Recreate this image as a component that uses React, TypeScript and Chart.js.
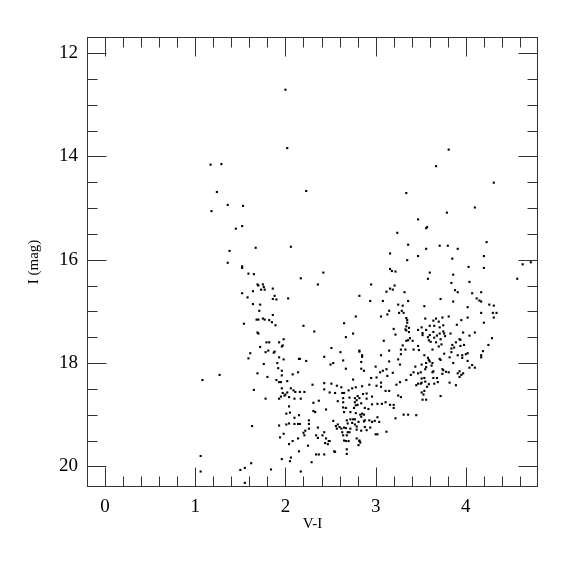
import React, { useEffect, useRef } from "react";
import { Chart, registerables } from "chart.js";

Chart.register(...registerables);

const X_TICKS = [0, 1, 2, 3, 4];
const Y_TICKS = [12, 14, 16, 18, 20];
const X_MIN = -0.2;
const X_MAX = 4.8;
const Y_MIN = 11.69;
const Y_MAX = 20.4;

// [V-I, I] pairs
const UPPER: [number, number][] = [
  [2.00, 12.71], [2.02, 13.84], [1.17, 14.16], [1.29, 14.15], [1.24, 14.69], [1.36, 14.94],
  [1.53, 14.96], [1.18, 15.06], [1.52, 15.35], [1.45, 15.40], [1.67, 15.77], [2.06, 15.75],
  [2.23, 14.67], [3.34, 14.71], [3.47, 15.22], [3.24, 15.48], [3.36, 15.71],
  [3.81, 13.87], [3.67, 14.19], [4.31, 14.51], [4.10, 14.99], [3.79, 15.09], [3.56, 15.39],
  [3.57, 15.37], [4.23, 15.66], [3.71, 15.73], [3.80, 15.73], [3.91, 15.79], [3.56, 15.79],
];

const BLUE_BRANCH: [number, number][] = [
  [1.38, 15.83], [1.36, 16.06], [1.52, 16.13], [1.52, 16.16], [1.59, 16.27], [1.65, 16.28],
  [1.69, 16.48], [1.70, 16.50], [1.75, 16.48], [1.76, 16.53], [1.73, 16.58], [1.77, 16.58],
  [1.86, 16.56], [1.52, 16.65], [1.64, 16.61], [1.88, 16.70], [1.86, 16.76], [1.90, 16.77],
  [2.03, 16.75], [1.58, 16.73], [1.64, 16.86], [1.72, 16.87], [1.71, 16.99], [1.86, 17.07],
  [1.68, 17.16], [1.70, 17.16], [1.75, 17.14], [1.77, 17.16], [1.82, 17.17], [1.85, 17.21],
  [1.89, 17.27], [1.54, 17.24], [1.69, 17.41], [1.70, 17.43], [1.98, 17.54], [1.79, 17.60],
  [1.82, 17.60], [1.93, 17.60], [1.97, 17.66], [1.96, 17.68], [1.72, 17.69], [1.81, 17.76],
  [1.88, 17.78], [1.87, 17.80], [1.78, 17.79], [1.61, 17.81], [1.59, 17.91], [1.93, 17.89],
  [1.98, 17.93], [2.15, 17.92], [1.91, 18.00], [1.76, 18.02], [1.92, 18.10],
  [1.08, 18.33], [1.27, 18.23], [1.69, 18.20], [1.80, 18.27], [1.96, 18.15], [1.96, 18.24],
  [2.08, 18.22], [2.14, 18.18], [1.90, 18.33], [1.93, 18.37], [1.95, 18.37], [2.02, 18.35],
  [1.65, 18.52], [1.96, 18.49], [2.06, 18.49], [2.09, 18.53], [1.97, 18.58], [2.02, 18.57],
  [2.11, 18.56], [1.99, 18.63], [2.00, 18.61], [1.95, 18.65], [2.04, 18.66], [1.78, 18.69],
  [1.93, 18.69], [2.10, 18.69], [2.04, 18.84], [2.01, 18.98], [2.05, 18.96], [2.10, 19.06],
  [2.15, 19.01], [1.93, 19.21], [2.01, 19.19], [2.04, 19.17], [2.10, 19.18], [2.14, 19.18],
  [1.63, 19.22], [1.98, 19.37], [1.94, 19.44], [2.14, 19.46], [2.08, 19.51], [2.04, 19.57],
  [2.15, 19.71], [1.06, 19.80], [1.96, 19.86], [2.06, 19.83], [2.05, 19.90], [1.62, 19.94],
  [1.55, 20.03], [1.50, 20.07], [1.06, 20.10], [1.84, 20.06], [1.55, 20.32],
];

const RED_BRANCH: [number, number][] = [
  [3.16, 15.88], [3.47, 15.93], [3.35, 16.01], [3.16, 16.18], [3.18, 16.22], [3.22, 16.23],
  [2.42, 16.25], [2.17, 16.36], [2.36, 16.48], [2.95, 16.48], [3.21, 16.50], [3.16, 16.56],
  [3.19, 16.58], [3.12, 16.62], [3.32, 16.63], [2.82, 16.70], [2.94, 16.80], [3.08, 16.80],
  [3.36, 16.80], [3.25, 16.87], [3.30, 16.89], [3.15, 16.99], [3.29, 16.99], [3.26, 17.03],
  [3.31, 17.03], [3.13, 17.06], [3.06, 17.10], [2.78, 17.10], [3.34, 17.13], [3.35, 17.17],
  [3.35, 17.22], [2.65, 17.23], [2.20, 17.28], [3.34, 17.29], [3.37, 17.32], [3.33, 17.35],
  [3.34, 17.37], [3.37, 17.40], [3.20, 17.34], [2.32, 17.39], [3.47, 17.36], [2.75, 17.43],
  [3.22, 17.45], [2.67, 17.50], [3.38, 17.52], [3.36, 17.56], [3.34, 17.57], [3.09, 17.57],
  [3.41, 17.57], [3.47, 17.67], [3.48, 17.75], [3.30, 17.66], [2.51, 17.71], [3.28, 17.74],
  [3.33, 17.74], [3.42, 17.74], [2.82, 17.76], [2.82, 17.78], [3.15, 17.76], [2.61, 17.79],
  [3.06, 17.85], [2.85, 17.85], [2.85, 17.88], [3.28, 17.83], [2.43, 17.88], [3.25, 17.93],
  [2.16, 17.92], [2.23, 17.96], [2.64, 17.95], [2.84, 17.98], [3.15, 17.97], [2.53, 18.00],
  [2.50, 18.03], [3.27, 18.03], [3.00, 18.07], [3.44, 18.07], [2.67, 18.11], [2.84, 18.11],
  [3.12, 18.12],
  [4.20, 15.93], [3.85, 15.98], [4.03, 16.14], [4.20, 16.16], [4.72, 16.05], [4.63, 16.09],
  [3.60, 16.25], [3.86, 16.29], [3.58, 16.37], [4.57, 16.37], [3.84, 16.45], [4.04, 16.43],
  [3.88, 16.59], [3.91, 16.63], [4.07, 16.65], [4.17, 16.63], [4.12, 16.75], [4.15, 16.79],
  [3.72, 16.76], [3.86, 16.81], [4.17, 16.81], [4.26, 16.87], [4.31, 16.89], [3.54, 16.90],
  [4.02, 16.92], [4.17, 17.03], [4.30, 17.03], [4.34, 17.03], [3.81, 17.10], [3.74, 17.12],
  [4.31, 17.12], [4.02, 17.12], [3.55, 17.14], [3.67, 17.14], [3.70, 17.20], [3.64, 17.18],
  [3.95, 17.17], [4.20, 17.22], [3.60, 17.28], [3.75, 17.27], [3.51, 17.31], [3.65, 17.28],
  [3.71, 17.31], [3.90, 17.26], [3.56, 17.36], [3.64, 17.40], [3.75, 17.39], [3.76, 17.43],
  [3.97, 17.41], [4.10, 17.41], [3.52, 17.42], [3.71, 17.43], [3.60, 17.46], [3.52, 17.46],
  [3.83, 17.43], [3.68, 17.47], [3.77, 17.48], [3.58, 17.50], [3.65, 17.51], [4.04, 17.47],
  [4.29, 17.52], [3.72, 17.54], [3.93, 17.54], [3.94, 17.55], [3.61, 17.59], [3.59, 17.56],
  [3.67, 17.60], [3.89, 17.60], [4.25, 17.65], [3.73, 17.64], [3.70, 17.68], [3.85, 17.65],
  [3.94, 17.67], [3.98, 17.65], [3.87, 17.70], [3.84, 17.72], [3.63, 17.74], [4.19, 17.77],
  [3.84, 17.79], [3.76, 17.82], [3.54, 17.85], [3.91, 17.85], [3.96, 17.85], [4.00, 17.83],
  [3.82, 17.89], [4.02, 17.81], [4.17, 17.85], [4.17, 17.89], [3.71, 17.92], [3.72, 17.94],
  [3.96, 17.90], [3.58, 17.90], [3.59, 17.94], [3.60, 17.97], [3.63, 18.00], [4.02, 17.96],
  [3.56, 18.00], [3.86, 18.00], [4.07, 18.04], [3.51, 18.03], [3.56, 18.08], [3.55, 18.12],
  [3.62, 18.05], [4.04, 18.09], [4.10, 18.09], [3.74, 18.12],
  [3.50, 18.18], [3.63, 18.18], [3.64, 18.16], [3.74, 18.21], [3.78, 18.17], [3.81, 18.18],
  [3.75, 18.14], [3.91, 18.20], [3.93, 18.16], [3.95, 18.23], [3.97, 18.20], [3.93, 18.27],
  [3.51, 18.30], [3.54, 18.29], [3.64, 18.29], [3.68, 18.29], [3.50, 18.40], [3.51, 18.38],
  [3.55, 18.36], [3.59, 18.41], [3.57, 18.46], [3.65, 18.40], [3.69, 18.37], [3.82, 18.38],
  [3.89, 18.43], [3.51, 18.57], [3.54, 18.54], [3.53, 18.61], [3.72, 18.64], [3.52, 18.71],
  [3.56, 18.71],
];

const TURNOFF: [number, number][] = [
  [2.17, 20.10], [2.29, 19.92], [2.34, 19.77], [2.37, 19.77], [2.43, 19.77], [2.54, 19.71],
  [2.68, 19.67], [2.68, 19.76], [2.67, 19.51], [2.81, 19.59], [2.82, 19.50],
  [2.87, 18.15], [2.75, 18.32], [2.95, 18.29], [3.01, 18.28], [3.05, 18.18], [3.08, 18.15],
  [3.13, 18.25], [3.19, 18.19], [3.39, 18.23], [3.42, 18.18], [3.47, 18.20], [3.34, 18.33],
  [3.27, 18.37], [3.45, 18.43], [3.47, 18.40], [2.30, 18.42], [2.43, 18.39], [2.51, 18.40],
  [2.57, 18.44], [2.62, 18.47], [2.43, 18.51], [2.49, 18.57], [2.55, 18.58], [2.63, 18.58],
  [2.65, 18.58], [2.70, 18.53], [2.74, 18.49], [2.78, 18.47], [2.85, 18.45], [2.93, 18.42],
  [3.01, 18.44], [3.06, 18.38], [3.06, 18.46], [3.11, 18.54], [3.15, 18.54], [3.23, 18.42],
  [2.96, 18.65], [2.86, 18.60], [2.90, 18.59], [2.80, 18.64], [2.77, 18.68], [2.82, 18.68],
  [2.79, 18.72], [2.77, 18.76], [2.84, 18.78], [2.90, 18.69], [2.71, 18.67], [2.96, 18.80],
  [3.02, 18.79], [3.07, 18.79], [3.11, 18.76], [3.16, 18.81], [3.20, 18.81], [3.20, 18.87],
  [3.25, 18.63], [3.28, 18.66], [2.16, 18.56], [2.21, 18.56], [2.17, 18.69], [2.31, 18.77],
  [2.33, 18.95], [2.31, 18.93], [2.37, 18.73], [2.45, 18.90], [2.64, 18.76], [2.64, 18.86],
  [2.67, 18.87], [2.65, 18.95], [2.58, 18.74], [2.64, 18.68], [2.78, 18.82], [2.80, 18.81],
  [2.76, 18.87], [2.88, 18.87], [2.92, 18.89], [2.72, 18.95], [2.83, 19.00], [2.85, 18.98],
  [2.87, 19.00], [2.84, 19.04], [3.02, 19.05], [3.04, 19.14], [2.99, 19.12], [2.96, 19.14],
  [2.93, 19.11], [2.88, 19.11], [2.87, 19.13], [3.22, 19.07], [3.31, 19.00], [3.36, 19.00],
  [3.45, 19.01], [2.78, 18.97], [2.72, 19.09], [2.75, 19.09], [2.77, 19.09], [2.68, 19.11],
  [2.69, 19.17], [2.16, 19.18], [2.20, 19.35], [2.22, 19.31], [2.21, 19.40], [2.26, 19.11],
  [2.26, 19.18], [2.26, 19.27], [2.53, 19.12], [2.36, 19.25], [2.43, 19.34], [2.41, 19.40],
  [2.45, 19.46], [2.48, 19.51], [2.49, 19.51], [2.47, 19.57], [2.44, 19.55], [2.34, 19.40],
  [2.36, 19.45], [2.25, 19.60], [2.56, 19.22], [2.57, 19.27], [2.58, 19.19], [2.60, 19.24],
  [2.62, 19.27], [2.65, 19.25], [2.67, 19.26], [2.69, 19.34], [2.71, 19.34], [2.72, 19.27],
  [2.63, 19.34], [2.64, 19.40], [2.68, 19.40], [2.65, 19.50], [2.70, 19.51], [2.74, 19.16],
  [2.77, 19.19], [2.79, 19.23], [2.81, 19.14], [2.79, 19.29], [2.84, 19.31], [2.88, 19.24],
  [2.94, 19.25], [2.90, 19.30], [2.82, 19.51], [2.83, 19.54], [2.79, 19.46], [3.00, 19.38],
  [3.02, 19.38], [3.12, 19.33], [2.55, 19.72],
];

const FONT = "'Liberation Serif', 'DejaVu Serif', serif";

const framePlugin = {
  id: "frameTicks",
  afterDatasetsDraw(chart: any) {
    const { ctx, chartArea: a, scales } = chart;
    const xs = scales.x;
    const ys = scales.y;
    const L = Math.round(a.left) + 0.5;
    const R = Math.round(a.right) - 0.5;
    const T = Math.round(a.top) + 0.5;
    const B = Math.round(a.bottom) - 0.5;
    ctx.save();
    ctx.strokeStyle = "#333";
    ctx.lineWidth = 1;
    ctx.beginPath();
    for (let i = 0; i <= 25; i++) {
      const v = X_MIN + i * 0.2;
      const major = Math.abs(v - Math.round(v)) < 1e-6;
      const len = major ? 19 : 10;
      const px = Math.round(xs.getPixelForValue(v)) + 0.5;
      if (px <= L + 1 || px >= R - 1) continue;
      ctx.moveTo(px, B);
      ctx.lineTo(px, B - len);
      ctx.moveTo(px, T);
      ctx.lineTo(px, T + len);
    }
    for (let i = 0; i <= 16; i++) {
      const v = 12 + i * 0.5;
      const major = Math.abs(v / 2 - Math.round(v / 2)) < 1e-6;
      const len = major ? 19 : 10;
      const py = Math.round(ys.getPixelForValue(v)) + 0.5;
      if (py <= T + 1 || py >= B - 1) continue;
      ctx.moveTo(L, py);
      ctx.lineTo(L + len, py);
      ctx.moveTo(R, py);
      ctx.lineTo(R - len, py);
    }
    ctx.stroke();
    ctx.strokeRect(L, T, R - L, B - T);
    ctx.restore();
  },
};

export default function App() {
  const ref = useRef<HTMLCanvasElement | null>(null);

  useEffect(() => {
    document.body.style.margin = "0";
    const canvas = ref.current;
    if (!canvas) return;
    const points = [...UPPER, ...BLUE_BRANCH, ...RED_BRANCH, ...TURNOFF].map(([vi, mag]) => ({
      x: vi,
      y: mag,
    }));
    const chart = new Chart(canvas, {
      type: "scatter",
      data: {
        datasets: [
          {
            data: points,
            pointStyle: "rect",
            pointRadius: 1.5,
            pointBorderWidth: 0,
            backgroundColor: "#000",
            borderColor: "#000",
          },
        ],
      },
      options: {
        animation: false,
        responsive: false,
        devicePixelRatio: 1,
        layout: { padding: { top: 37, right: 37, left: 0, bottom: 0 } },
        plugins: { legend: { display: false }, tooltip: { enabled: false } },
        scales: {
          x: {
            type: "linear",
            min: X_MIN,
            max: X_MAX,
            grid: { display: false, drawTicks: false },
            border: { display: false },
            afterBuildTicks: (s: any) => {
              s.ticks = X_TICKS.map((v) => ({ value: v }));
            },
            afterFit: (s: any) => {
              s.height = 88;
            },
            ticks: {
              padding: 9,
              color: "#000",
              autoSkip: false,
              maxRotation: 0,
              font: { family: FONT, size: 19 },
            },
            title: {
              display: true,
              text: "V-I",
              color: "#000",
              font: { family: FONT, size: 15 },
              padding: { top: 0, bottom: 42 },
            },
          },
          y: {
            type: "linear",
            reverse: true,
            min: Y_MIN,
            max: Y_MAX,
            grid: { display: false, drawTicks: false },
            border: { display: false },
            afterBuildTicks: (s: any) => {
              s.ticks = Y_TICKS.map((v) => ({ value: v }));
            },
            afterFit: (s: any) => {
              s.width = 87;
            },
            ticks: {
              padding: 9,
              color: "#000",
              autoSkip: false,
              font: { family: FONT, size: 19 },
            },
            title: {
              display: true,
              text: "I (mag)",
              color: "#000",
              font: { family: FONT, size: 15 },
              padding: { top: 25, bottom: 0 },
            },
          },
        },
      },
      plugins: [framePlugin],
    });
    return () => chart.destroy();
  }, []);

  return (
    <div style={{ width: 575, height: 575 }}>
      <canvas ref={ref} width={575} height={575} style={{ display: "block" }} />
    </div>
  );
}
